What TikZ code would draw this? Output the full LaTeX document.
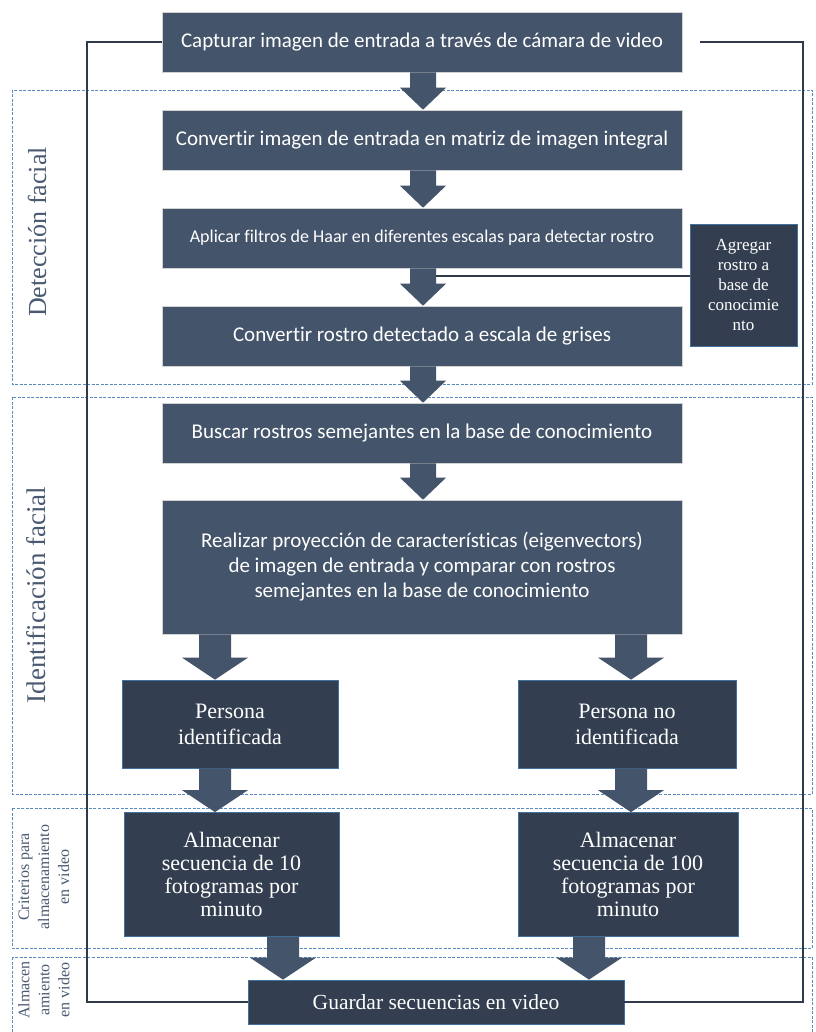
\documentclass[tikz,border=0pt]{standalone}
\usepackage{fontspec}
\setmainfont{Liberation Serif}
\newfontfamily\calib[Ligatures=NoCommon]{Carlito}
\usetikzlibrary{calc}
\definecolor{boxA}{HTML}{44546A}
\definecolor{boxB}{HTML}{333F50}
\definecolor{edgeB}{HTML}{41719C}
\definecolor{dashc}{HTML}{5B8BC0}
\definecolor{loopc}{HTML}{2F3A4A}
\definecolor{lbl}{HTML}{4A5A72}
\newcommand\blockarr[5]{%
 \fill[boxA] let \p1=(#1.south), \p2=(#2.north), \p3=(#3,0) in
 (\x3-#4pt,\y1) -- (\x3+#4pt,\y1) -- (\x3+#4pt,\y2+22pt) -- (\x3+#5pt,\y2+22pt)
 -- (\x3,\y2) -- (\x3-#5pt,\y2+22pt) -- (\x3-#4pt,\y2+22pt) -- cycle;}
\begin{document}
\begin{tikzpicture}[x=1pt,y=-1pt,
 lightbox/.style={draw=gray!35, line width=0.6pt, fill=boxA, text=white, minimum width=520pt, minimum height=60pt, inner sep=0pt, align=center, font=\calib\fontsize{21}{25}\selectfont},
 darkbox/.style={draw=edgeB, line width=0.8pt, fill=boxB, text=white, inner sep=0pt, align=center, font=\fontsize{22}{23}\selectfont},
 group/.style={draw=dashc, dash pattern=on 3pt off 1.5pt, line width=0.8pt},
 loopline/.style={draw=loopc, line width=2pt},
 grouplabel/.style={rotate=90, text=lbl, align=center, inner sep=0pt}
]
\useasboundingbox (0,0) rectangle (815,1032);
\fill[white] (0,0) rectangle (815,1032);

% groups
\draw[group] (12,90) rectangle (812,384);
\draw[group] (12,397) rectangle (812,794);
\draw[group] (12,808) rectangle (812,948);
\draw[group] (12,957) rectangle (812,1040);

\node[grouplabel, font=\fontsize{26}{30}\selectfont] (lgdet) at (37,232) {Detección facial};
\node[grouplabel, font=\fontsize{27}{30}\selectfont] (lgid) at (36,595) {Identificación facial};
\node[grouplabel, font=\fontsize{16}{20}\selectfont] (lgcrit) at (44,877) {Criterios para\\almacenamiento\\en video};
\node[grouplabel, font=\fontsize{16}{20}\selectfont] (lgalm) at (44,990) {Almacen\\amiento\\en video};

% boxes
\node[lightbox] (cap) at (422,42) {Capturar imagen de entrada a través de cámara de video};
\node[lightbox] (conv) at (422,140) {Convertir imagen de entrada en matriz de imagen integral};
\node[lightbox, font=\calib\fontsize{18}{22}\selectfont] (apl) at (422,238) {Aplicar filtros de Haar en diferentes escalas para detectar rostro};
\node[lightbox] (gris) at (422,336) {Convertir rostro detectado a escala de grises};
\node[lightbox] (busc) at (422,433) {Buscar rostros semejantes en la base de conocimiento};
\node[lightbox, minimum height=134pt] (real) at (422,567) {Realizar proyección de características (eigenvectors)\\de imagen de entrada y comparar con rostros\\semejantes en la base de conocimiento};

\node[darkbox, minimum width=107pt, minimum height=122pt, font=\fontsize{17}{20}\selectfont] (agr) at (743.5,285) {Agregar\\rostro a\\base de\\conocimie\\nto};

\node[darkbox, minimum width=216pt, minimum height=88pt, font=\fontsize{22}{26}\selectfont] (pid) at (230,724) {Persona\\identificada};
\node[darkbox, minimum width=218pt, minimum height=88pt, font=\fontsize{22}{26}\selectfont] (pnid) at (627,724) {Persona no\\identificada};

\node[darkbox, minimum width=215pt, minimum height=124pt] (a10) at (231.5,874.5) {Almacenar\\secuencia de 10\\fotogramas por\\minuto};
\node[darkbox, minimum width=220pt, minimum height=124pt] (a100) at (628,874.5) {Almacenar\\secuencia de 100\\fotogramas por\\minuto};

\node[darkbox, minimum width=376pt, minimum height=44pt, font=\fontsize{21.5}{24}\selectfont] (guard) at (436,1002) {Guardar secuencias en video};

% loop connectors
\coordinate (rs) at ($(cap.east)+(18,0)$);
\draw[loopline] (cap.west) -- ++(-75,0) |- (guard.west);
\draw[loopline] (rs) -- ++(103,0) |- (guard.east);

% block arrows
\blockarr{cap}{conv}{423}{13}{23}
\blockarr{conv}{apl}{423}{13}{23}
\blockarr{apl}{gris}{423}{13}{23}
\blockarr{gris}{busc}{423}{13}{23}
\blockarr{busc}{real}{423}{13}{23}
\blockarr{real}{pid}{215}{16}{33}
\blockarr{real}{pnid}{631}{16}{33}
\blockarr{pid}{a10}{215}{16}{33}
\blockarr{pnid}{a100}{631}{16}{33}
\blockarr{a10}{guard}{283}{16}{33}
\blockarr{a100}{guard}{589}{16}{33}

% connector to Agregar
\coordinate (ag) at (436,276);
\draw[draw=loopc, line width=2pt] (ag) -- (ag -| agr.west);
\end{tikzpicture}
\end{document}
